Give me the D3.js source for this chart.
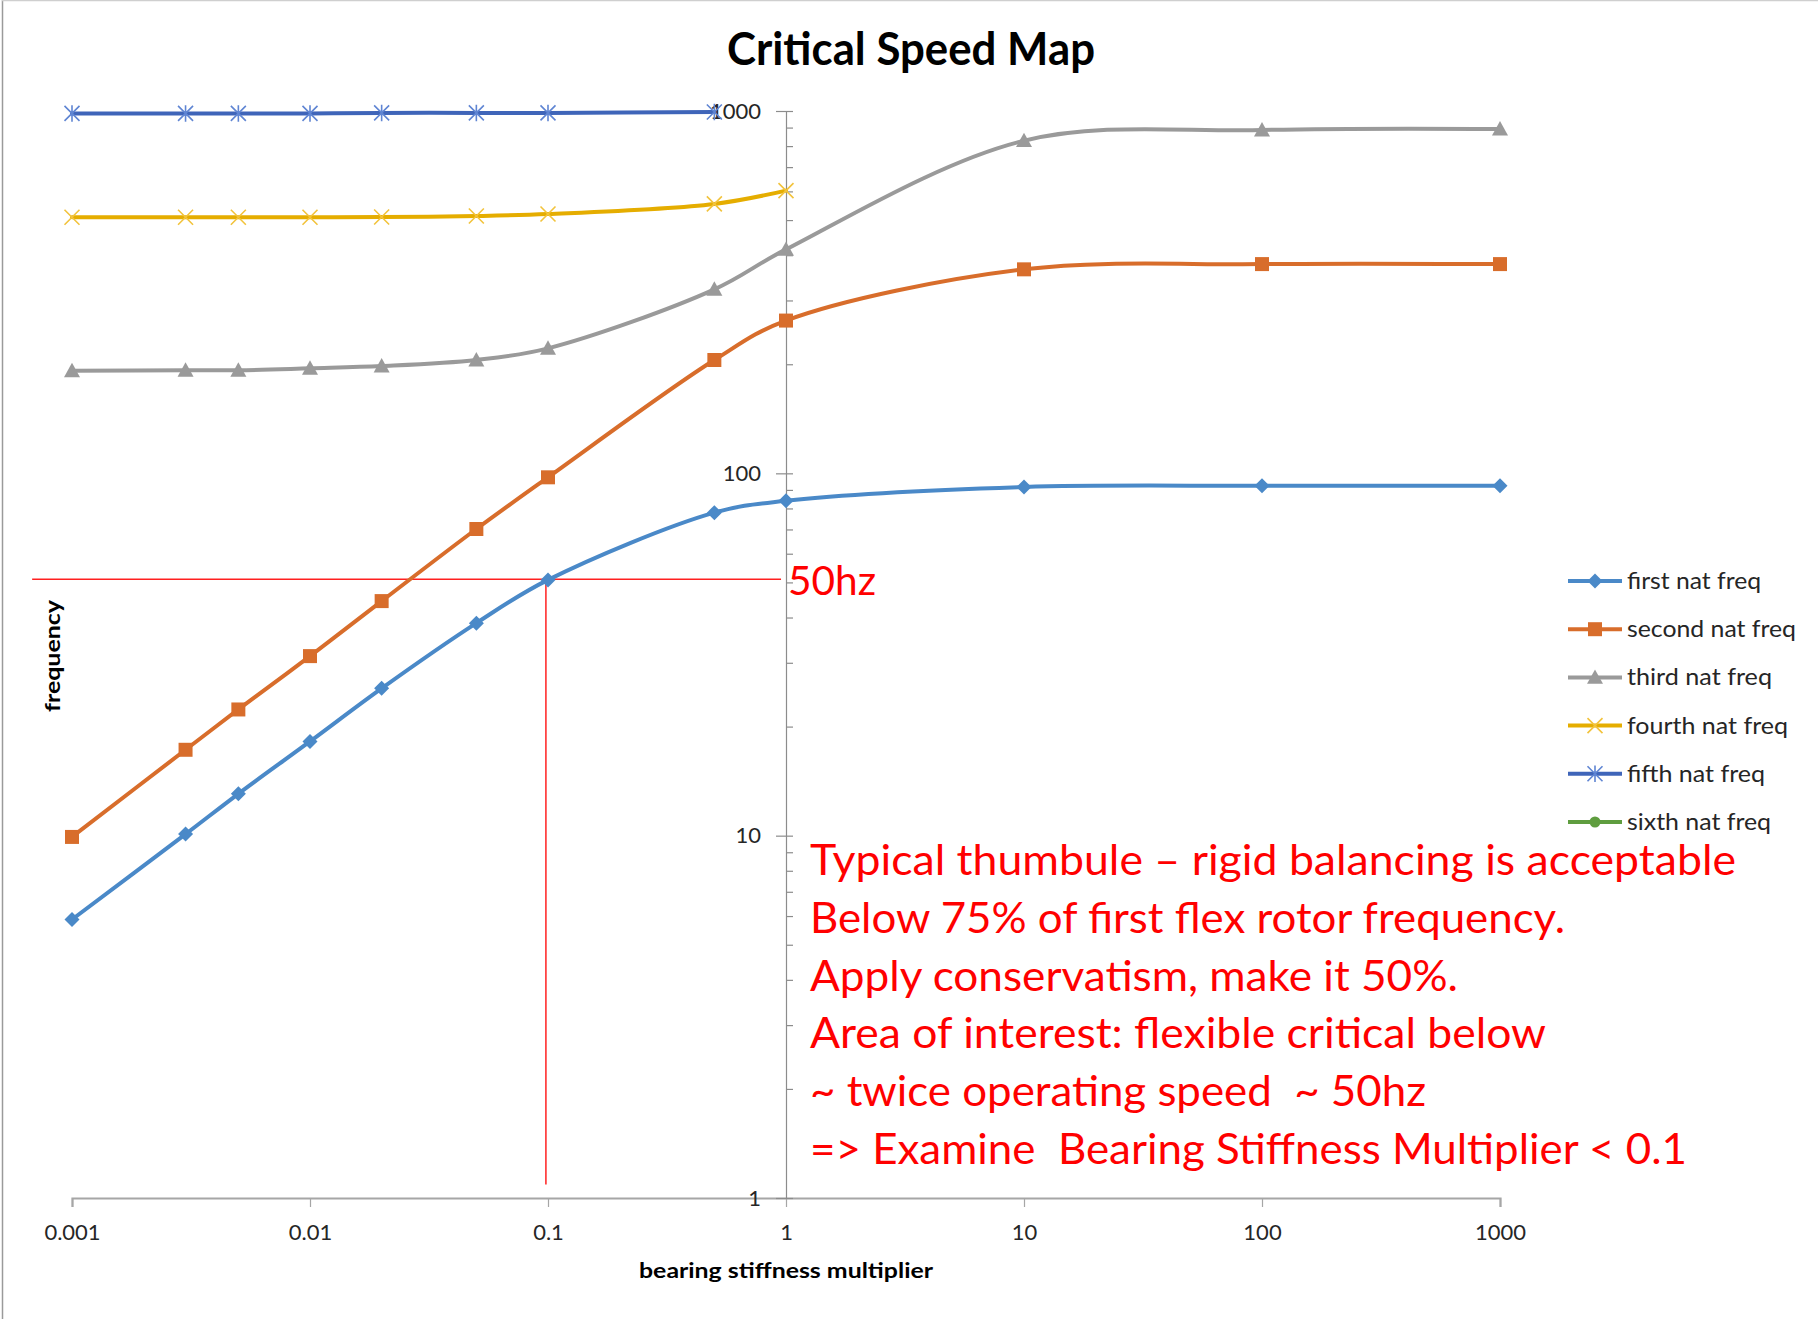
<!DOCTYPE html>
<html>
<head>
<meta charset="utf-8">
<script src="https://cdn.jsdelivr.net/npm/d3@7"></script>
<style>
  html, body { margin: 0; padding: 0; background: #ffffff; }
  svg { display: block; font-family: Lato, "Open Sans", sans-serif; }
  text { white-space: pre; }
</style>
</head>
<body>
<div id="chart"></div>
<script>
// ---- data ----
const X_VALUES = [0.001, 0.003, 0.005, 0.01, 0.02, 0.05, 0.1, 0.5, 1, 10, 100, 1000];

const FIRST_NAT  = [5.87, 10.1, 13.05, 18.2, 25.5, 38.6, 50.8, 77.9, 84.0, 91.7, 92.4, 92.4];
const SECOND_NAT = [9.92, 17.26, 22.3, 31.3, 44.4, 70.2, 97.5, 205.5, 264, 365.6, 378, 378];
const THIRD_NAT  = [191.9, 192.5, 192.5, 194.9, 197.7, 205.5, 221.3, 322, 415, 828, 886, 892];
const FOURTH_NAT = [509, 509, 509, 509, 510, 513, 519.6, 554, 603];
const FIFTH_NAT  = [985, 985, 985, 985, 988, 988, 988, 994];
const SIXTH_NAT  = [];

const SERIES_NAMES = ["first nat freq", "second nat freq", "third nat freq",
                      "fourth nat freq", "fifth nat freq", "sixth nat freq"];
const LEGEND_WIDTHS = [134, 169, 145, 161, 138, 144];

const X_TICKS = [0.001, 0.01, 0.1, 1, 10, 100, 1000];
const X_TICK_LABELS = ["0.001", "0.01", "0.1", "1", "10", "100", "1000"];
const Y_TICKS = [1, 10, 100, 1000];
const Y_TICK_LABELS = ["1", "10", "100", "1000"];

// 50 Hz guide lines (data units)
const GUIDE_H = [[0.00068, 51], [0.953, 51]];
const GUIDE_V = [[0.098, 51], [0.098, 1.09]];

const NOTE_LINES = [
  "Typical thumbule \u2013 rigid balancing is acceptable",
  "Below 75% of first flex rotor frequency.",
  "Apply conservatism, make it 50%.",
  "Area of interest: flexible critical below",
  "~ twice operating speed  ~ 50hz",
  "=> Examine  Bearing Stiffness Multiplier < 0.1"
];
const NOTE_WIDTHS = [926, 755, 648, 736, 616, 877];

// ---- marker shapes (size = half width) ----
const symDiamond = { draw(c, r) { c.moveTo(0, -r); c.lineTo(r, 0); c.lineTo(0, r); c.lineTo(-r, 0); c.closePath(); } };
const symSquare  = { draw(c, r) { c.rect(-r, -r, 2 * r, 2 * r); } };
const symTri     = { draw(c, r) { c.moveTo(0, -r); c.lineTo(r, r * 0.8); c.lineTo(-r, r * 0.8); c.closePath(); } };
const symTimes   = { draw(c, r) { c.moveTo(-r, -r); c.lineTo(r, r); c.moveTo(r, -r); c.lineTo(-r, r); } };
const symStar    = { draw(c, r) { c.moveTo(-r, -r); c.lineTo(r, r); c.moveTo(r, -r); c.lineTo(-r, r); c.moveTo(0, -r * 1.1); c.lineTo(0, r * 1.1); } };
const symCircle  = { draw(c, r) { c.moveTo(r, 0); c.arc(0, 0, r, 0, 2 * Math.PI); } };

const series = [
  { values: FIRST_NAT,  color: "#4a89c8", sym: symDiamond, r: 7.5, fill: true },
  { values: SECOND_NAT, color: "#d86d2b", sym: symSquare,  r: 7,   fill: true },
  { values: THIRD_NAT,  color: "#9a9a9a", sym: symTri,     r: 8,   fill: true },
  { values: FOURTH_NAT, color: "#e5ad00", sym: symTimes,   r: 7.5, fill: false, mColor: "#f2c33c" },
  { values: FIFTH_NAT,  color: "#3f65b9", sym: symStar,    r: 7.5, fill: false, mColor: "#5f85d3" },
  { values: SIXTH_NAT,  color: "#5f9d3f", sym: symCircle,  r: 5.5, fill: true }
].map((s, i) => ({
  ...s,
  name: SERIES_NAMES[i],
  points: s.values.map((v, j) => ({ x: X_VALUES[j], y: v }))
}));

// ---- layout ----
const W = 1818, H = 1319;
const svg = d3.select("#chart").append("svg").attr("width", W).attr("height", H);

const x = d3.scaleLog().domain([0.001, 1000]).range([72, 1500]);
const y = d3.scaleLog().domain([1, 1000]).range([1198, 111]);
const tickFont = 22, tickColor = "#262626", axisColor = "#8c8c8c";

// chart frame edges
svg.append("line").attr("x1", 2.5).attr("x2", 2.5).attr("y1", 0).attr("y2", H)
  .attr("stroke", "#9a9a9a").attr("stroke-width", 1.5);
svg.append("line").attr("x1", 2).attr("x2", W).attr("y1", 0.5).attr("y2", 0.5)
  .attr("stroke", "#cfcfcf").attr("stroke-width", 1.5);

// title
svg.append("text")
  .attr("x", 911).attr("y", 65)
  .attr("text-anchor", "middle")
  .attr("font-size", 45).attr("font-weight", 700).attr("fill", "#000")
  .attr("textLength", 368).attr("lengthAdjust", "spacingAndGlyphs")
  .text("Critical Speed Map");

// x axis
const xAxis = svg.append("g")
  .attr("transform", `translate(0,${y(1)})`)
  .call(d3.axisBottom(x).tickValues(X_TICKS).tickSize(9).tickPadding(17)
    .tickFormat((d, i) => X_TICK_LABELS[i]));
xAxis.select(".domain").attr("stroke", "#a6a6a6").attr("stroke-width", 2.2);
xAxis.selectAll(".tick line").attr("stroke", "#a6a6a6").attr("stroke-width", 1.2);
xAxis.selectAll("text").attr("font-size", tickFont).attr("fill", tickColor)
  .attr("font-family", "Lato, sans-serif");

// y axis crossing at x = 1
const yMinor = [];
for (let dec = 1; dec < 1000; dec *= 10) {
  for (let k = 2; k <= 9; k++) yMinor.push(dec * k);
}
const yAxisG = svg.append("g").attr("transform", `translate(${x(1)},0)`);
yAxisG.call(d3.axisLeft(y).tickValues(Y_TICKS).tickSizeInner(10).tickSizeOuter(0).tickPadding(15)
  .tickFormat((d, i) => Y_TICK_LABELS[i]));
yAxisG.select(".domain").attr("stroke", axisColor).attr("stroke-width", 1.2);
yAxisG.selectAll(".tick line").attr("stroke", axisColor).attr("stroke-width", 1.2);
yAxisG.selectAll("text").attr("font-size", tickFont).attr("fill", tickColor)
  .attr("font-family", "Lato, sans-serif");

const yRight = svg.append("g").attr("transform", `translate(${x(1)},0)`)
  .call(d3.axisRight(y).tickValues(Y_TICKS.concat(yMinor)).tickSize(7).tickFormat(""));
yRight.select(".domain").remove();
yRight.selectAll(".tick line").attr("stroke", axisColor).attr("stroke-width", 1.2);

// axis titles
svg.append("text")
  .attr("x", x(1)).attr("y", 1278)
  .attr("text-anchor", "middle")
  .attr("font-size", 21).attr("font-weight", 700).attr("fill", "#000")
  .attr("textLength", 294).attr("lengthAdjust", "spacingAndGlyphs")
  .text("bearing stiffness multiplier");

svg.append("text")
  .attr("transform", "translate(60,656) rotate(-90)")
  .attr("text-anchor", "middle")
  .attr("font-size", 21).attr("font-weight", 700).attr("fill", "#000")
  .attr("textLength", 112).attr("lengthAdjust", "spacingAndGlyphs")
  .text("frequency");

// 50 Hz guides
const guide = d3.line().x(d => x(d[0])).y(d => y(d[1]));
[GUIDE_H, GUIDE_V].forEach(g => {
  svg.append("path").attr("d", guide(g))
    .attr("fill", "none").attr("stroke", "#ff2020").attr("stroke-width", 1.5);
});

// series lines (smoothed like the spreadsheet)
const line = d3.line()
  .x(d => x(d.x)).y(d => y(d.y))
  .curve(d3.curveCatmullRom.alpha(0.5));

series.forEach(s => {
  if (!s.points.length) return;
  svg.append("path")
    .attr("d", line(s.points))
    .attr("fill", "none")
    .attr("stroke", s.color)
    .attr("stroke-width", 4)
    .attr("stroke-linejoin", "round")
    .attr("stroke-linecap", "round");
});

// markers
function drawMarker(sel, s) {
  const p = sel.append("path")
    .attr("d", d3.symbol().type(s.sym).size(s.r)());
  if (s.fill) {
    p.attr("fill", s.color).attr("stroke", "none");
  } else {
    p.attr("fill", "none").attr("stroke", s.mColor || s.color).attr("stroke-width", 1.6);
  }
  return p;
}

series.forEach(s => {
  s.points.forEach(pt => {
    const g = svg.append("g").attr("transform", `translate(${x(pt.x)},${y(pt.y)})`);
    drawMarker(g, s);
  });
});

// "50hz" label
svg.append("text")
  .attr("x", 788).attr("y", 595)
  .attr("font-size", 41).attr("fill", "#ff0000")
  .attr("textLength", 88).attr("lengthAdjust", "spacingAndGlyphs")
  .text("50hz");

// note text
const noteTop = 875, noteStep = 57.8;
svg.append("g").selectAll("text")
  .data(NOTE_LINES)
  .enter()
  .append("text")
  .attr("x", 810)
  .attr("y", (d, i) => noteTop + i * noteStep)
  .attr("font-size", 42)
  .attr("fill", "#ff0000")
  .attr("textLength", (d, i) => NOTE_WIDTHS[i])
  .attr("lengthAdjust", "spacingAndGlyphs")
  .text(d => d);

// legend
const legend = svg.append("g").attr("transform", "translate(1568,581)");
const items = legend.selectAll("g")
  .data(series)
  .enter()
  .append("g")
  .attr("transform", (d, i) => `translate(0,${i * 48.2})`);

items.append("line")
  .attr("x1", 0).attr("x2", 54).attr("y1", 0).attr("y2", 0)
  .attr("stroke", d => d.color).attr("stroke-width", 4);

items.each(function (d) {
  const g = d3.select(this).append("g").attr("transform", "translate(27,0)");
  drawMarker(g, d);
});

items.append("text")
  .attr("x", 59).attr("y", 8)
  .attr("font-size", 23)
  .attr("fill", "#262626")
  .attr("textLength", (d, i) => LEGEND_WIDTHS[i])
  .attr("lengthAdjust", "spacingAndGlyphs")
  .text(d => d.name);
</script>
</body>
</html>
